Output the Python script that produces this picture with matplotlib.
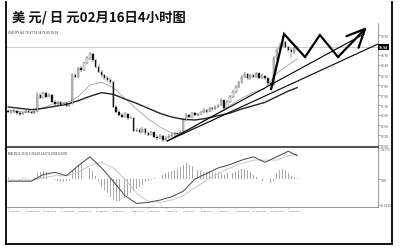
import matplotlib
matplotlib.use("Agg")
import matplotlib.pyplot as plt
import numpy as np

plt.rcParams["font.family"] = ["Noto Sans CJK SC", "DejaVu Sans"]

W, H = 400, 253

TITLE = "美 元/ 日 元02月16日4小时图"
SYMBOL_LABEL = "USDJPY,H4  78.87 78.98 78.85 78.94"
MACD_LABEL = "MACD(12,26,9) 0.2064 0.1817 0.0008 0.0225"

# ── 4H candles ───────────────────────────────────────────────────────────────
closes = [77.00, 76.98, 77.03, 76.95, 76.92, 76.97, 77.02, 76.99, 76.95, 77.00,
          77.50, 77.42, 77.55, 77.45, 77.50, 77.30, 77.22, 77.28, 77.20, 77.25,
          77.18, 77.24, 78.10, 78.05, 78.30, 78.25, 78.45, 78.60, 78.72, 78.55,
          78.35, 78.20, 78.10, 78.00, 77.95, 77.88, 77.15, 77.00, 76.90, 76.85,
          76.92, 76.80, 76.82, 76.42, 76.45, 76.38, 76.48, 76.35, 76.30, 76.38,
          76.25, 76.20, 76.28, 76.15, 76.22, 76.28, 76.30, 76.35, 76.32, 76.40,
          76.75, 76.90, 76.85, 76.95, 76.90, 76.92, 76.98, 77.05, 77.00, 77.10,
          77.08, 77.15, 77.20, 77.35, 77.10, 77.30, 77.45, 77.60, 77.75, 77.88,
          78.05, 78.12, 78.00, 78.10, 78.05, 78.15, 78.02, 78.08, 78.00, 77.85,
          77.80, 78.60, 78.85, 78.98, 79.10, 78.95, 78.85, 78.80, 78.90, 78.94]
highs = [77.06, 77.04, 77.07, 77.05, 76.98, 77.00, 77.06, 77.05, 77.01, 77.04,
         77.58, 77.56, 77.60, 77.58, 77.55, 77.52, 77.34, 77.33, 77.31, 77.29,
         77.28, 77.27, 78.15, 78.16, 78.35, 78.36, 78.50, 78.66, 78.80, 78.75,
         78.58, 78.40, 78.25, 78.14, 78.06, 78.00, 77.92, 77.20, 77.05, 76.95,
         76.98, 76.95, 76.88, 76.84, 76.52, 76.50, 76.54, 76.51, 76.40, 76.43,
         76.40, 76.30, 76.33, 76.30, 76.27, 76.33, 76.35, 76.40, 76.38, 76.44,
         76.80, 76.95, 76.93, 77.00, 76.98, 76.96, 77.02, 77.10, 77.08, 77.14,
         77.13, 77.19, 77.24, 77.40, 77.36, 77.34, 77.50, 77.65, 77.80, 77.92,
         78.10, 78.18, 78.15, 78.14, 78.13, 78.20, 78.17, 78.12, 78.10, 78.02,
         77.90, 78.66, 78.92, 79.05, 79.24, 79.12, 78.98, 78.90, 78.95, 78.98]
lows = [76.97, 76.93, 76.96, 76.91, 76.88, 76.90, 76.95, 76.96, 76.92, 76.93,
        76.98, 77.38, 77.40, 77.42, 77.43, 77.27, 77.18, 77.20, 77.16, 77.17,
        77.14, 77.15, 77.22, 78.00, 78.02, 78.20, 78.22, 78.42, 78.56, 78.50,
        78.30, 78.15, 78.05, 77.96, 77.90, 77.84, 77.10, 76.95, 76.86, 76.80,
        76.83, 76.76, 76.77, 76.38, 76.38, 76.33, 76.36, 76.31, 76.26, 76.29,
        76.20, 76.14, 76.17, 76.10, 76.13, 76.20, 76.25, 76.28, 76.28, 76.30,
        76.38, 76.72, 76.80, 76.82, 76.86, 76.87, 76.90, 76.95, 76.96, 76.98,
        77.03, 77.05, 77.12, 77.16, 77.05, 77.08, 77.27, 77.42, 77.56, 77.70,
        77.84, 78.00, 77.95, 77.96, 78.00, 78.01, 77.97, 77.98, 77.95, 77.80,
        77.74, 77.78, 78.55, 78.80, 78.94, 78.90, 78.78, 78.60, 78.74, 78.85]
first_open = 77.02
last_price = 78.94

# moving averages, sampled every 4 candles
ma_idx = [0, 4, 8, 12, 16, 20, 24, 28, 32, 36, 40, 44, 48, 52, 56, 60, 64,
          68, 72, 76, 80, 84, 88, 92, 96, 99]
ma_fast = [77.05, 77.00, 76.98, 77.12, 77.25, 77.26, 77.45, 77.80, 77.88,
           77.72, 77.40, 77.08, 76.78, 76.54, 76.36, 76.33, 76.55, 76.80,
           76.97, 77.18, 77.40, 77.58, 77.70, 78.15, 78.40, 78.58]
ma_slow = [77.14, 77.10, 77.06, 77.10, 77.16, 77.22, 77.33, 77.46, 77.57,
           77.52, 77.38, 77.25, 77.10, 76.95, 76.84, 76.77, 76.75, 76.80,
           76.88, 76.96, 77.08, 77.18, 77.28, 77.45, 77.62, 77.72]

# MACD lines (same sampling) and histogram per candle
macd_main = [-0.02, -0.02, -0.02, 0.04, 0.06, 0.03, 0.12, 0.20, 0.10, -0.02,
             -0.15, -0.22, -0.21, -0.19, -0.16, -0.11, 0.00, 0.05, 0.10, 0.13,
             0.17, 0.20, 0.15, 0.20, 0.25, 0.21]
macd_signal = [-0.01, -0.01, -0.01, 0.01, 0.03, 0.03, 0.06, 0.12, 0.15, 0.10,
               0.00, -0.13, -0.20, -0.21, -0.19, -0.15, -0.08, -0.01, 0.05,
               0.10, 0.14, 0.17, 0.17, 0.17, 0.21, 0.22]
macd_hist = [0.01, -0.01, 0.01, 0.00, -0.01, 0.01, 0.01, -0.01, 0.00, 0.01,
             0.05, 0.06, 0.07, 0.06, 0.04,
             0.02, -0.01, -0.02, -0.03, -0.03, -0.02, -0.01,
             0.08, 0.10, 0.12, 0.14, 0.14, 0.13, 0.10, 0.07, 0.03,
             -0.03, -0.07, -0.10, -0.13, -0.16, -0.19, -0.20, -0.20, -0.19,
             -0.17, -0.15, -0.13, -0.11, -0.09, -0.07, -0.05, -0.03, -0.02, -0.01,
             0.01, 0.02, 0.03, 0.04, 0.05, 0.06, 0.07, 0.08, 0.09, 0.11,
             0.13, 0.14, 0.13, 0.12, 0.10, 0.08,
             0.07, 0.06, 0.06, 0.07, 0.06, 0.05, 0.06, 0.05, 0.04, 0.05,
             0.06, 0.05, 0.06, 0.08, 0.09, 0.09, 0.08, 0.06, 0.04, 0.02, 0.00,
             -0.02, -0.04, -0.05, -0.04, -0.02,
             0.05, 0.08, 0.09, 0.08, 0.05, 0.03, 0.02, 0.01]

# hand-drawn annotations (candle index, price)
trend_a = ([54.5, 121.9], [76.12, 79.33])
trend_b = ([54.5, 126.7], [76.12, 79.03])
zigzag_x = [90.1, 94.5, 101.7, 106.8, 113.0]
zigzag_y = [77.68, 79.33, 78.64, 79.30, 78.64]
arrow_tip = (122.9, 79.54)

price_ticks = [79.30, 78.70, 78.40, 78.10, 77.80, 77.50, 77.20, 76.90,
               76.60, 76.30, 76.00]
macd_ticks = [0.2775, 0.0, -0.2296]
macd_tick_labels = ["0.2775", "0.00", "-0.2296"]
date_idx = [0, 6, 12, 18, 24, 30, 36, 42, 48, 54, 60, 66, 72, 78, 84, 90, 96]
date_labels = ["24 Jan 2012", "25 Jan 00:00", "26 Jan 00:00", "27 Jan 00:00",
               "30 Jan 00:00", "31 Jan 00:00", "1 Feb 00:00", "2 Feb 00:00",
               "3 Feb 00:00", "6 Feb 00:00", "7 Feb 00:00", "8 Feb 00:00",
               "9 Feb 00:00", "10 Feb 00:00", "13 Feb 00:00", "14 Feb 00:00",
               "15 Feb 00:00"]


def px_rect(x0, y0, x1, y1):
    return [x0 / W, 1 - y1 / H, (x1 - x0) / W, (y1 - y0) / H]


def style_axis(ax):
    for s in ("top", "left"):
        ax.spines[s].set_visible(False)
    ax.spines["right"].set_color("#888888")
    ax.spines["right"].set_linewidth(0.6)
    ax.yaxis.tick_right()
    ax.tick_params(axis="y", labelsize=2.4, length=1.2, width=0.4,
                   colors="#555555", pad=1)


fig = plt.figure(figsize=(W / 100, H / 100), dpi=100)
fig.patch.set_facecolor("white")

# outer frame
for xs, ys in (([6, 6], [3, 245]), ([392, 392], [3, 245]), ([6, 392], [245, 245])):
    fig.add_artist(plt.Line2D([x / W for x in xs], [1 - y / H for y in ys],
                              color="black", lw=1.3))

fig.text(12 / W, 1 - 17 / H, TITLE, fontsize=9.6, fontweight="bold",
         va="center", ha="left", color="#111111")

# ── price panel ──────────────────────────────────────────────────────────────
ax = fig.add_axes(px_rect(7, 24, 378, 148))
style_axis(ax)
ax.spines["bottom"].set_color("#222222")
ax.spines["bottom"].set_linewidth(1.1)

n = len(closes)
x = np.arange(n)
opens = [first_open] + closes[:-1]
ax.vlines(x, lows, highs, color="#222222", lw=0.35, zorder=3)
for i in range(n):
    o, c = opens[i], closes[i]
    bull = c >= o
    ax.bar(i, max(abs(c - o), 0.012), 0.48, bottom=min(o, c),
           color="white" if bull else "#111111", edgecolor="#222222", lw=0.25,
           zorder=4)

ax.plot(ma_idx, ma_fast, color="#a0a0a0", lw=0.6, zorder=2)
ax.plot(ma_idx, ma_slow, color="#222222", lw=1.0, zorder=2)
ax.axhline(last_price, color="#cccccc", lw=0.8, zorder=1)

ax.plot(*trend_a, color="black", lw=0.8, zorder=5)
ax.plot(*trend_b, color="black", lw=0.8, zorder=5)
ax.plot(zigzag_x, zigzag_y, color="black", lw=1.6, zorder=6,
        solid_joinstyle="miter")
ax.annotate("", xy=arrow_tip, xytext=(zigzag_x[-1], zigzag_y[-1]),
            arrowprops=dict(arrowstyle="->,head_length=1.3,head_width=0.6",
                            lw=1.6, color="black", shrinkA=0, shrinkB=0),
            zorder=6, annotation_clip=False)

ax.set_xlim(-0.4, 126.7)
ax.set_ylim(75.94, 79.66)
ax.set_xticks([])
ax.set_yticks(price_ticks)
ax.set_yticklabels([f"{p:.2f}" for p in price_ticks])
ax.text(1.002, last_price, f"{last_price:.2f}", transform=ax.get_yaxis_transform(),
        fontsize=2.4, color="white", va="center", ha="left", fontweight="bold",
        bbox=dict(boxstyle="square,pad=0.25", fc="black", ec="none"), zorder=10)
ax.text(0.003, 0.93, SYMBOL_LABEL, transform=ax.transAxes, fontsize=2.2,
        color="#333333", va="center", ha="left")

# ── MACD panel ───────────────────────────────────────────────────────────────
mx = fig.add_axes(px_rect(7, 149, 378, 208))
style_axis(mx)
mx.spines["bottom"].set_color("#888888")
mx.spines["bottom"].set_linewidth(0.6)

mx.bar(x, macd_hist, 0.3, color="#a8a8a8", zorder=2)
mx.plot(ma_idx, macd_signal, color="#c8c8c8", lw=0.7, zorder=3)
mx.plot(ma_idx, macd_main, color="#444444", lw=0.7, zorder=4)

mx.set_xlim(-0.4, 126.7)
mx.set_ylim(-0.252, 0.279)
mx.set_yticks(macd_ticks)
mx.set_yticklabels(macd_tick_labels)
mx.set_xticks(date_idx)
mx.set_xticklabels(date_labels, ha="left")
mx.tick_params(axis="x", labelsize=1.7, length=1.0, width=0.4,
               colors="#555555", pad=1)
mx.text(0.003, 0.92, MACD_LABEL, transform=mx.transAxes, fontsize=2.2,
        color="#333333", va="center", ha="left")

fig.savefig("out.png", dpi=100)
